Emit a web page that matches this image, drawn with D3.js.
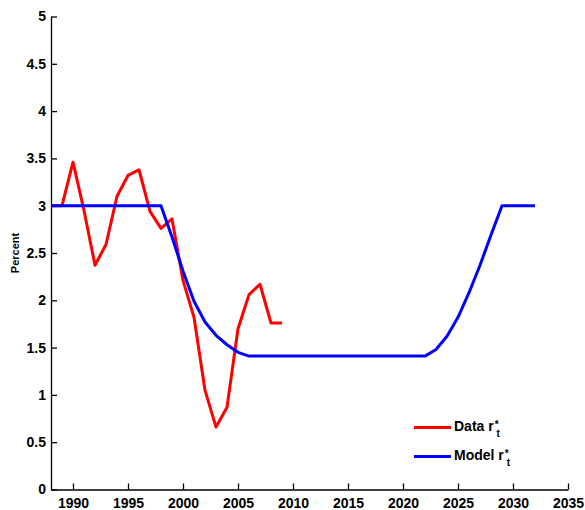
<!DOCTYPE html>
<html>
<head>
<meta charset="utf-8">
<script src="https://cdn.jsdelivr.net/npm/d3@7"></script>
<style>
  body { margin: 0; background: #fff; }
  svg { display: block; font-family: "Liberation Sans", Arial, sans-serif; }
</style>
</head>
<body>
<svg id="chart" width="585" height="510"></svg>
<script>
// Observed real rate r*_t, annual
const dataYears = [1988, 1989, 1990, 1991, 1992, 1993, 1994, 1995, 1996, 1997, 1998, 1999,
                   2000, 2001, 2002, 2003, 2004, 2005, 2006, 2007, 2008, 2009];
const dataValues = [3.0, 3.0, 3.46, 2.95, 2.37, 2.59, 3.10, 3.32, 3.38, 2.94, 2.76, 2.86,
                    2.21, 1.82, 1.05, 0.66, 0.87, 1.70, 2.06, 2.17, 1.76, 1.76];

// Model path of r*_t
const modelYears = [1988, 1998, 1999, 2000, 2001, 2002, 2003, 2004, 2005, 2006,
                    2022, 2023, 2024, 2025, 2026, 2027, 2028, 2029, 2032];
const modelValues = [3.0, 3.0, 2.67, 2.31, 1.99, 1.77, 1.63, 1.53, 1.45, 1.41,
                     1.41, 1.48, 1.62, 1.82, 2.08, 2.37, 2.69, 3.0, 3.0];

const xTicks = [1990, 1995, 2000, 2005, 2010, 2015, 2020, 2025, 2030, 2035];
const yTicks = [0, 0.5, 1, 1.5, 2, 2.5, 3, 3.5, 4, 4.5, 5];

const svg = d3.select("#chart");
const x = d3.scaleLinear().domain([1988, 2035]).range([51, 568]);
const y = d3.scaleLinear().domain([0, 5]).range([489.5, 16.5]);

// Axes (ticks pointing inward)
const xAxis = d3.axisBottom(x).tickValues(xTicks).tickFormat(d3.format("d"))
  .tickSizeInner(-6).tickSizeOuter(0).tickPadding(9);
const yAxis = d3.axisLeft(y).tickValues(yTicks).tickFormat(d => String(d))
  .tickSizeInner(-6).tickSizeOuter(0).tickPadding(5);

const gx = svg.append("g").attr("transform", `translate(0,${y(0)})`).call(xAxis);
const gy = svg.append("g").attr("transform", `translate(${x(1988)},0)`).call(yAxis);
[gx, gy].forEach(g => {
  g.select(".domain").attr("stroke", "#000").attr("stroke-width", 1.3);
  g.selectAll(".tick line").attr("stroke", "#000").attr("stroke-width", 1.3);
  g.selectAll(".tick text").attr("fill", "#000")
    .style("font-size", "14px").style("font-weight", "bold")
    .style("font-family", "'Liberation Sans', Arial, sans-serif");
});
gx.selectAll(".tick text").attr("dy", "0.71em");

// Y label
svg.append("text")
  .attr("transform", `translate(19,${(y(0) + y(5)) / 2}) rotate(-90)`)
  .attr("text-anchor", "middle")
  .style("font-size", "11px").style("font-weight", "bold")
  .text("Percent");

const line = d3.line().x(d => x(d[0])).y(d => y(d[1]));

const dataPts = dataYears.map((yr, i) => [yr, dataValues[i]]);
const modelPts = modelYears.map((yr, i) => [yr, modelValues[i]]);

svg.append("path").datum(dataPts)
  .attr("d", line).attr("fill", "none")
  .attr("stroke", "#ff0000").attr("stroke-width", 3).attr("stroke-linejoin", "round");

svg.append("path").datum(modelPts)
  .attr("d", line).attr("fill", "none")
  .attr("stroke", "#0000ff").attr("stroke-width", 3).attr("stroke-linejoin", "round");

// Legend
const legend = [
  { name: "Data", color: "#ff0000", yPos: 427.5 },
  { name: "Model", color: "#0000ff", yPos: 456.5 }
];
legend.forEach(item => {
  svg.append("line")
    .attr("x1", 414).attr("x2", 451)
    .attr("y1", item.yPos).attr("y2", item.yPos)
    .attr("stroke", item.color).attr("stroke-width", 3);
  const t = svg.append("text")
    .attr("x", 454).attr("y", item.yPos + 3)
    .style("font-size", "14px").style("font-weight", "bold");
  t.append("tspan").text(item.name + " r");
  t.append("tspan").attr("dx", 1).attr("dy", -3).style("font-size", "10px").text("*");
  t.append("tspan").attr("dx", -2).attr("dy", 9.5).style("font-size", "10px").text("t");
});
</script>
</body>
</html>
